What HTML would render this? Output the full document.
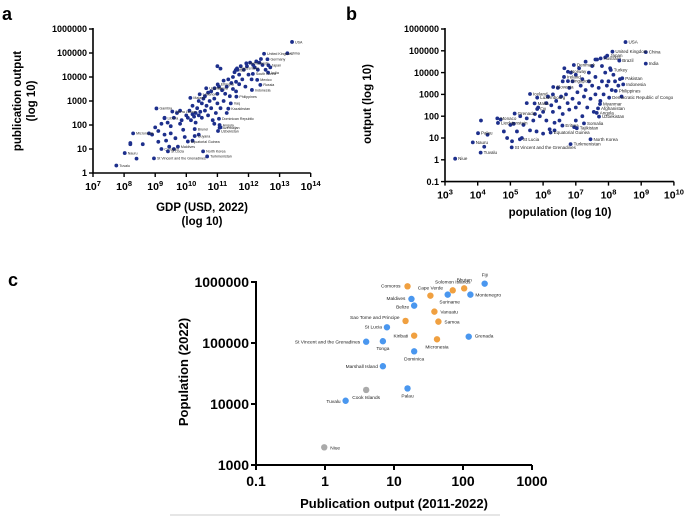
<!DOCTYPE html>
<html><head><meta charset="utf-8"><style>
html,body{margin:0;padding:0;background:#fff;}
svg{display:block;font-family:"Liberation Sans",Arial,sans-serif;}
.tk{font-weight:bold;font-size:9px;fill:#000;}
.tkc{font-weight:bold;font-size:14px;fill:#000;}
.ttl{font-weight:bold;font-size:11.5px;fill:#000;}
.lab{font-size:3.6px;fill:#222;}
.labb{font-size:4.5px;fill:#222;}
.labc{font-size:4.8px;fill:#222;}
</style></head><body>
<svg id="chart" width="688" height="516" viewBox="0 0 688 516" xmlns="http://www.w3.org/2000/svg">
<g id="pa"></g>
<g id="pb"></g>
<g id="pc"></g>
<text x="2" y="20" style="font-weight:bold;font-size:18px">a</text>
<text x="346" y="20" style="font-weight:bold;font-size:18px">b</text>
<text x="8" y="286" style="font-weight:bold;font-size:18px">c</text>
<line x1="170" y1="515" x2="500" y2="515" stroke="#ccc" stroke-width="1"/>
</svg>
<script>
// ---- Panel A data: log10 GDP, log10 publications ----
const aLabels=["USA","China","United Kingdom","Germany","Japan","India","South Korea","Netherlands","Switzerland","Iran","Mexico","Russia","Ethiopia","Kenya","Uganda","Indonesia","Philippines","Lebanon","Malawi","Gambia","Sierra Leone","Iraq","Kazakhstan","Liberia","Dominican Republic","Brunei","Angola","Azerbaijan","Uzbekistan","Micronesia","Guyana","Equatorial Guinea","Maldives","Comoros","St Lucia","North Korea","Nauru","Turkmenistan","St Vincent and the Grenadines","Tuvalu"];
const aGdp=[13.40,13.25,12.50,12.61,12.64,12.63,12.14,11.93,11.63,11.59,12.28,12.38,11.01,10.91,10.64,12.11,11.61,10.43,10.13,9.04,9.55,11.43,11.35,9.30,11.05,10.27,11.07,11.07,11.02,8.29,10.27,10.05,9.73,9.20,9.41,10.54,8.02,10.67,8.96,7.75];
const aPub=[5.46,4.99,4.97,4.74,4.49,4.18,4.13,4.57,4.36,4.29,3.88,3.67,3.69,3.53,3.53,3.46,3.18,3.28,3.13,2.69,2.56,2.90,2.68,2.28,2.26,1.83,2.00,1.89,1.75,1.65,1.54,1.31,1.10,1.00,0.90,0.90,0.83,0.69,0.61,0.31];
const aOtherGdp=[8.2,8.2,8.4,8.6,8.8,8.9,9.0,9.1,9.1,9.2,9.3,9.35,9.4,9.45,9.5,9.5,9.6,9.65,9.7,9.8,9.85,9.9,9.95,10.0,10.05,10.1,10.15,10.2,10.2,10.25,10.3,10.3,10.35,10.4,10.4,10.45,10.5,10.5,10.55,10.6,10.6,10.65,10.7,10.7,10.75,10.8,10.8,10.85,10.9,10.95,11.0,11.0,11.05,11.1,11.15,11.2,11.2,11.25,11.3,11.3,11.35,11.4,11.45,11.5,11.5,11.55,11.6,11.6,11.65,11.7,11.7,11.75,11.8,11.85,11.9,11.95,12.0,12.05,12.1,12.15,12.2,12.25,12.3,12.35,12.4,12.45,12.55,12.7,11.0,11.1,10.2,10.4,9.6,10.9,11.1,9.8,9.3];
const aOtherPub=[1.25,1.2,0.6,1.2,1.65,1.6,1.9,1.75,1.3,2.05,1.6,1.35,2.1,1.1,1.95,1.65,2.3,1.45,2.5,2.05,2.2,1.8,1.5,2.4,2.3,2.6,2.2,2.45,2.8,2.35,2.5,2.1,2.7,2.4,3.0,2.55,2.9,2.3,3.1,2.6,3.2,2.8,2.4,3.35,3.0,2.7,3.4,2.2,3.1,2.5,3.3,2.9,3.6,2.7,3.45,3.0,3.85,3.3,3.6,2.5,3.9,3.2,3.75,4.0,3.5,4.2,3.8,3.4,4.3,3.7,4.1,4.45,3.9,4.3,3.6,4.45,4.1,4.6,3.9,4.5,4.4,4.65,4.3,4.6,4.75,4.5,4.3,4.4,4.45,4.35,1.35,1.6,1.0,2.05,1.9,2.6,2.3];
const aXTicks=[7,8,9,10,11,12,13,14];
const aYTicks=["1","10","100","1000","10000","100000","1000000"];

// ---- Panel B data: log10 population, log10 output ----
const bLabels=["USA","China","India","United Kingdom","Japan","Australia","Brazil","Denmark","Norway","Ireland","Singapore","Turkey","Pakistan","Slovenia","Indonesia","Iceland","Philippines","Luxembourg","Democratic Republic of Congo","Malta","Myanmar","Fiji","Afghanistan","Angola","Uzbekistan","Grenada","Monaco","Liechtenstein","Somalia","Eritrea","Tajikistan","Equatorial Guinea","Palau","St Lucia","North Korea","Nauru","Turkmenistan","St Vincent and the Grenadines","Tuvalu","Niue"];
const bPop=[8.52,9.14,9.14,8.12,7.96,7.76,8.33,6.94,6.76,6.64,6.76,8.07,8.42,6.31,8.45,5.60,8.22,5.82,8.02,5.74,7.74,5.82,7.68,7.64,7.71,5.13,4.60,4.62,7.25,6.59,7.03,6.23,4.01,5.29,7.45,3.85,6.84,5.04,4.09,3.31];
const bOut=[5.40,4.94,4.41,4.96,4.78,4.65,4.55,4.35,4.04,3.80,3.61,4.12,3.74,3.34,3.46,3.02,3.16,2.85,2.85,2.59,2.56,2.33,2.36,2.15,1.98,2.12,1.90,1.69,1.67,1.57,1.45,1.25,1.22,0.94,0.94,0.80,0.72,0.57,0.33,0.05];
const bOtherPop=[4.1,4.3,4.2,4.7,4.8,4.9,5.0,5.05,5.1,5.2,5.3,5.4,5.5,5.6,5.7,5.75,5.8,5.85,5.9,6.0,6.0,6.1,6.1,6.15,6.2,6.25,6.3,6.3,6.35,6.4,6.45,6.5,6.5,6.55,6.6,6.6,6.65,6.7,6.75,6.8,6.8,6.85,6.9,6.9,6.95,7.0,7.0,7.05,7.1,7.1,7.15,7.2,7.2,7.25,7.3,7.3,7.35,7.4,7.4,7.45,7.5,7.5,7.55,7.6,7.6,7.65,7.7,7.75,7.8,7.8,7.85,7.9,7.95,8.0,8.05,8.1,8.15,8.2,8.3,8.35,8.4,5.5,5.35,6.35,7.0,7.6,7.9];
const bOtherOut=[1.8,1.15,0.6,1.85,1.3,1.0,1.6,0.85,1.65,1.3,2.0,1.6,1.9,1.35,1.8,2.1,1.3,2.4,2.0,1.2,2.2,2.6,1.8,2.9,1.4,2.5,3.0,2.2,1.7,2.7,3.3,2.4,1.8,2.9,3.6,2.1,4.2,3.0,2.6,3.3,2.3,4.0,2.8,3.6,1.5,2.4,3.9,3.1,4.2,2.6,3.4,2.0,3.7,2.9,4.5,3.2,2.4,3.6,4.0,2.8,3.4,4.3,2.2,3.0,3.8,4.6,3.3,2.7,3.6,4.3,3.0,4.0,3.4,3.6,4.2,3.2,3.9,3.6,3.4,3.7,2.9,2.6,1.0,1.35,1.8,4.6,4.7];
const bXTicks=[3,4,5,6,7,8,9,10];
const bYTicks=["0.1","1","10","100","1000","10000","100000","1000000"];

// ---- Panel C data ----
const cNames=["Comoros","Cape Verde","Solomon Islands","Bhutan","Fiji","Suriname","Montenegro","Maldives","Belize","Vanuatu","Sao Tome and Principe","Samoa","St Lucia","Kiribati","Micronesia","Grenada","St Vincent and the Grenadines","Tonga","Dominica","Marshall Island","Cook Islands","Palau","Tuvalu","Niue"];
const cPubs=[15.7,33.7,71,104,206,60,128,17.9,19.6,38.5,14.7,44,7.9,19.6,42,121,3.95,6.9,19.6,6.9,3.95,15.7,1.99,0.975];
const cPop=[850000,597000,730000,787000,940000,621000,621000,527000,410000,327000,230000,224000,181000,132000,115000,127000,105000,107000,73000,41600,17000,18000,11300,1950];
const cGroup=["o","o","o","o","b","b","b","b","b","o","o","o","b","o","o","b","b","b","b","b","g","b","b","g"];
const cXTicks=["0.1","1","10","100","1000"];
const cYTicks=["1000","10000","100000","1000000"];

const NS="http://www.w3.org/2000/svg";
function mk(parent,tag,attrs,txt){const e=document.createElementNS(NS,tag);for(const k in attrs)e.setAttribute(k,attrs[k]);if(txt!==undefined)e.textContent=txt;parent.appendChild(e);return e;}

const ax=v=>93+(v-7)*31.1, ay=v=>29+(6-v)*24;
const bx=v=>445+(v-3)*32.7, by=v=>29+(6-v)*21.8;
const cx=v=>256+(Math.log10(v)+1)*69, cy=v=>282+(6-Math.log10(v))*61;

function powLabel(g,x,y,exp,name){
  const t=mk(g,'text',{x:x,y:y,'text-anchor':'middle',style:'font-weight:bold;font-size:10.5px'});
  
  
  mk(t,'tspan',{},'10');
  mk(t,'tspan',{dy:'-4','font-size':'7.5px'},String(exp));
}

// ===== Panel A =====
(function(){
const g=document.getElementById('pa');
const axl=mk(g,'path',{d:`M${ax(7)},${ay(6)-1}V${ay(0)}H${ax(14)}`,fill:'none',stroke:'#000','stroke-width':1.6});


aYTicks.forEach((s,i)=>{
  mk(g,'line',{x1:ax(7)-4,x2:ax(7),y1:ay(i),y2:ay(i),stroke:'#000','stroke-width':1.4});
  const t=mk(g,'text',{x:ax(7)-6,y:ay(i)+3.2,'text-anchor':'end',class:'tk'},s);
  
  
});
aXTicks.forEach(v=>{
  mk(g,'line',{x1:ax(v),x2:ax(v),y1:ay(0),y2:ay(0)+4,stroke:'#000','stroke-width':1.4});
  powLabel(g,ax(v),ay(0)+17,v,'panel-a-x-tick-label');
});
aOtherGdp.forEach((v,i)=>{
  const c=mk(g,'circle',{cx:ax(v),cy:ay(aOtherPub[i]),r:1.9,fill:'#1d2f8c'});
  
  
});
aGdp.forEach((v,i)=>{
  const c=mk(g,'circle',{cx:ax(v),cy:ay(aPub[i]),r:1.9,fill:'#1d2f8c'});
  
  
  const t=mk(g,'text',{x:ax(v)+3,y:ay(aPub[i])+1.3,class:'lab'},aLabels[i]);
  
  
});
let t=mk(g,'text',{x:202,y:211,'text-anchor':'middle',class:'ttl'},'GDP (USD, 2022)');


t=mk(g,'text',{x:202,y:225,'text-anchor':'middle',class:'ttl'},'(log 10)');


t=mk(g,'text',{x:0,y:0,'text-anchor':'middle',class:'ttl',transform:'translate(21,101) rotate(-90)'},'publication output');


t=mk(g,'text',{x:0,y:0,'text-anchor':'middle',class:'ttl',transform:'translate(35,101) rotate(-90)'},'(log 10)');


})();

// ===== Panel B =====
(function(){
const g=document.getElementById('pb');
const axl=mk(g,'path',{d:`M${bx(3)},${by(6)-1}V${by(-1)}H${bx(10)}`,fill:'none',stroke:'#000','stroke-width':1.6});


bYTicks.forEach((s,i)=>{
  const v=i-1;
  mk(g,'line',{x1:bx(3)-4,x2:bx(3),y1:by(v),y2:by(v),stroke:'#000','stroke-width':1.4});
  const t=mk(g,'text',{x:bx(3)-6,y:by(v)+3.2,'text-anchor':'end',class:'tk'},s);
  
  
});
bXTicks.forEach(v=>{
  mk(g,'line',{x1:bx(v),x2:bx(v),y1:by(-1),y2:by(-1)+4,stroke:'#000','stroke-width':1.4});
  powLabel(g,bx(v),by(-1)+17,v,'panel-b-x-tick-label');
});
bOtherPop.forEach((v,i)=>{
  const c=mk(g,'circle',{cx:bx(v),cy:by(bOtherOut[i]),r:1.9,fill:'#1d2f8c'});
  
  
});
bPop.forEach((v,i)=>{
  const c=mk(g,'circle',{cx:bx(v),cy:by(bOut[i]),r:1.9,fill:'#1d2f8c'});
  
  
  const t=mk(g,'text',{x:bx(v)+3,y:by(bOut[i])+1.5,class:'labb'},bLabels[i]);
  
  
});
let t=mk(g,'text',{x:560,y:216,'text-anchor':'middle',class:'ttl'},'population (log 10)');


t=mk(g,'text',{x:0,y:0,'text-anchor':'middle',class:'ttl',transform:'translate(371,104) rotate(-90)'},'output (log 10)');


})();

// ===== Panel C =====
(function(){
const g=document.getElementById('pc');
const axl=mk(g,'path',{d:`M${cx(0.1)},${cy(1000000)-1}V${cy(1000)}H${cx(1000)}`,fill:'none',stroke:'#000','stroke-width':2});


cYTicks.forEach(s=>{
  const v=Number(s);
  mk(g,'line',{x1:cx(0.1)-5,x2:cx(0.1),y1:cy(v),y2:cy(v),stroke:'#000','stroke-width':2});
  const t=mk(g,'text',{x:cx(0.1)-7,y:cy(v)+5,'text-anchor':'end',class:'tkc'},s);
  
  
});
cXTicks.forEach(s=>{
  const v=Number(s);
  mk(g,'line',{x1:cx(v),x2:cx(v),y1:cy(1000),y2:cy(1000)+5,stroke:'#000','stroke-width':2});
  const t=mk(g,'text',{x:cx(v),y:cy(1000)+21,'text-anchor':'middle',class:'tkc'},s);
  
  
});
const col={o:'#f0a040',b:'#4a97ef',g:'#aaaaaa'};
cPubs.forEach((v,i)=>{
  const c=mk(g,'circle',{cx:cx(v),cy:cy(cPop[i]),r:3.2,fill:col[cGroup[i]]});
  
  
});
const lp=[[-7,1,'end'],[0,-6,'middle'],[0,-7,'middle'],[0,-7,'middle'],[0,-7,'middle'],[2,9,'middle'],[5,2,'start'],[-6,1,'end'],[-5,3,'end'],[6,2,'start'],[-6,-2,'end'],[6,2,'start'],[-5,1,'end'],[-6,2,'end'],[0,9,'middle'],[6,1,'start'],[-6,2,'end'],[0,9,'middle'],[0,9,'middle'],[-5,2,'end'],[0,9,'middle'],[0,9,'middle'],[-5,2,'end'],[6,2,'start']];
cNames.forEach((s,i)=>{
  const t=mk(g,'text',{x:cx(cPubs[i])+lp[i][0],y:cy(cPop[i])+lp[i][1],'text-anchor':lp[i][2],class:'labc'},s);
  
  
});
let t=mk(g,'text',{x:394,y:508,'text-anchor':'middle',class:'ttl',style:'font-size:13px'},'Publication output (2011-2022)');


t=mk(g,'text',{x:0,y:0,'text-anchor':'middle',class:'ttl',style:'font-size:13px',transform:'translate(188,372) rotate(-90)'},'Population (2022)');


})();
</script>
</body></html>
